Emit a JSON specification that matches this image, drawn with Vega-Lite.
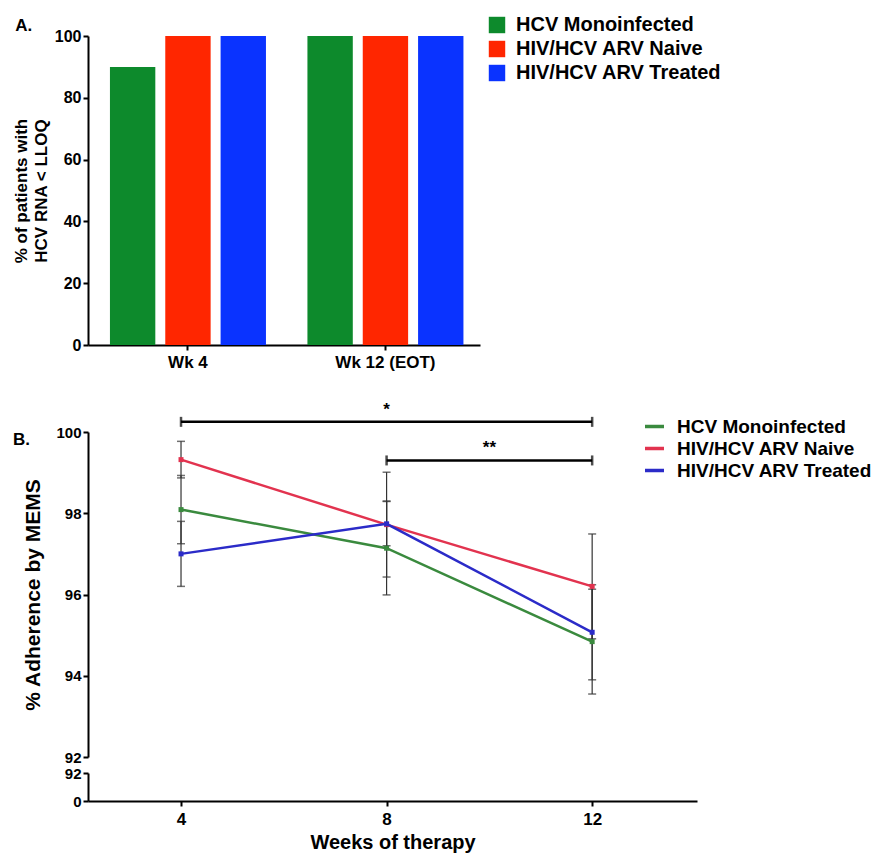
{
  "$schema": "https://vega.github.io/schema/vega-lite/v6.json",
  "background": "white",
  "padding": {"left": 12, "top": 15, "right": 3, "bottom": 5},
  "config": {
    "font": "Liberation Sans",
    "view": {"stroke": null},
    "axis": {"domainColor": "black", "domainWidth": 2, "tickColor": "black", "tickWidth": 2, "tickSize": 5, "labelColor": "black", "labelFontWeight": "bold", "titleFontWeight": "bold", "titleColor": "black", "grid": false},
    "legend": {"labelFontWeight": "bold", "labelColor": "black", "title": null, "labelLimit": 400},
    "title": {"fontWeight": "bold", "color": "black"}
  },
  "resolve": {"scale": {"color": "independent"}, "legend": {"color": "independent"}},
  "datasets": {
    "bars": [
      {"week": "Wk 4", "group": "HCV Monoinfected", "pct": 90},
      {"week": "Wk 4", "group": "HIV/HCV ARV Naive", "pct": 100},
      {"week": "Wk 4", "group": "HIV/HCV ARV Treated", "pct": 100},
      {"week": "Wk 12 (EOT)", "group": "HCV Monoinfected", "pct": 100},
      {"week": "Wk 12 (EOT)", "group": "HIV/HCV ARV Naive", "pct": 100},
      {"week": "Wk 12 (EOT)", "group": "HIV/HCV ARV Treated", "pct": 100}
    ],
    "adh": [
      {"week": 4, "group": "HCV Monoinfected", "mean": 98.09, "lo": 97.25, "hi": 98.93},
      {"week": 4, "group": "HIV/HCV ARV Naive", "mean": 99.32, "lo": 98.87, "hi": 99.77},
      {"week": 4, "group": "HIV/HCV ARV Treated", "mean": 97.0, "lo": 96.2, "hi": 97.8},
      {"week": 8, "group": "HCV Monoinfected", "mean": 97.14, "lo": 95.99, "hi": 98.29},
      {"week": 8, "group": "HIV/HCV ARV Naive", "mean": 97.72, "lo": 96.43, "hi": 99.01},
      {"week": 8, "group": "HIV/HCV ARV Treated", "mean": 97.74, "lo": 97.2, "hi": 98.3},
      {"week": 12, "group": "HCV Monoinfected", "mean": 94.84, "lo": 93.55, "hi": 96.13},
      {"week": 12, "group": "HIV/HCV ARV Naive", "mean": 96.2, "lo": 94.91, "hi": 97.49},
      {"week": 12, "group": "HIV/HCV ARV Treated", "mean": 95.07, "lo": 93.9, "hi": 96.24}
    ],
    "sig": [
      {"x1": 4, "x2": 12, "xm": 8, "y": 100.25, "label": "*"},
      {"x1": 8, "x2": 12, "xm": 10, "y": 99.3, "label": "**"}
    ],
    "sigEnds": [
      {"x": 4, "y": 100.25},
      {"x": 12, "y": 100.25},
      {"x": 8, "y": 99.3},
      {"x": 12, "y": 99.3}
    ]
  },
  "align": "none",
  "spacing": 30,
  "vconcat": [
    {
      "title": {"text": "A.", "anchor": "start", "frame": "bounds", "fontSize": 17, "dx": 3, "dy": 24},
      "width": 392,
      "height": 309,
      "data": {"name": "bars"},
      "mark": {"type": "bar"},
      "encoding": {
        "x": {"field": "week", "type": "nominal", "sort": ["Wk 4", "Wk 12 (EOT)"],
              "scale": {"paddingInner": 0.21, "paddingOuter": 0.0975, "align": 0.57},
              "axis": {"title": null, "labelAngle": 0, "labelFontSize": 17, "labelPadding": 4}},
        "xOffset": {"field": "group", "type": "nominal",
                    "sort": ["HCV Monoinfected", "HIV/HCV ARV Naive", "HIV/HCV ARV Treated"],
                    "scale": {"paddingInner": 0.18, "paddingOuter": 0}},
        "y": {"field": "pct", "type": "quantitative", "scale": {"domain": [0, 100]},
              "axis": {"values": [0, 20, 40, 60, 80, 100], "title": ["% of patients with", "HCV RNA < LLOQ"],
                       "titleFontSize": 17, "titleLineHeight": 20, "labelFontSize": 16, "titlePadding": 4}},
        "color": {"field": "group", "type": "nominal",
                  "scale": {"domain": ["HCV Monoinfected", "HIV/HCV ARV Naive", "HIV/HCV ARV Treated"],
                            "range": ["#0d8a2c", "#ff2600", "#0a33ff"]},
                  "legend": {"orient": "none", "legendX": 399, "legendY": -21, "symbolType": "square",
                             "symbolSize": 270, "symbolOpacity": 1, "labelFontSize": 20, "labelOffset": 9, "rowPadding": 4}}
      }
    },
    {
      "bounds": "flush",
      "spacing": 16,
      "vconcat": [
        {
          "title": {"text": "B.", "anchor": "start", "frame": "bounds", "fontSize": 17, "dx": -10, "dy": 52},
          "width": 609,
          "height": 325,
          "layer": [
            {
              "data": {"name": "adh"},
              "mark": {"type": "rule", "color": "#333333", "strokeWidth": 1.2},
              "encoding": {
                "x": {"field": "week", "type": "quantitative", "scale": {"domain": [2.19, 14.04], "nice": false, "zero": false}, "axis": null},
                "y": {"field": "lo", "type": "quantitative", "scale": {"domain": [92, 100]},
                      "axis": {"values": [92, 94, 96, 98, 100], "title": "% Adherence by MEMS",
                               "titleFontSize": 21, "labelFontSize": 15, "titlePadding": 12}},
                "y2": {"field": "hi"}
              }
            },
            {
              "data": {"name": "adh"},
              "mark": {"type": "tick", "orient": "horizontal", "size": 8, "thickness": 1.5, "color": "#333333"},
              "encoding": {
                "x": {"field": "week", "type": "quantitative", "axis": null},
                "y": {"field": "lo", "type": "quantitative"}
              }
            },
            {
              "data": {"name": "adh"},
              "mark": {"type": "tick", "orient": "horizontal", "size": 8, "thickness": 1.5, "color": "#333333"},
              "encoding": {
                "x": {"field": "week", "type": "quantitative", "axis": null},
                "y": {"field": "hi", "type": "quantitative"}
              }
            },
            {
              "data": {"name": "adh"},
              "mark": {"type": "line", "strokeWidth": 2.5, "point": {"filled": true, "size": 25, "shape": "square"}},
              "encoding": {
                "x": {"field": "week", "type": "quantitative", "axis": null},
                "y": {"field": "mean", "type": "quantitative"},
                "color": {"field": "group", "type": "nominal",
                          "scale": {"domain": ["HCV Monoinfected", "HIV/HCV ARV Naive", "HIV/HCV ARV Treated"],
                                    "range": ["#3a8a3e", "#e2334f", "#2b2bc8"]},
                          "legend": {"orient": "none", "legendX": 555, "legendY": -17, "symbolType": "stroke",
                                     "symbolStrokeWidth": 3.5, "symbolSize": 361, "labelFontSize": 19, "labelOffset": 11, "rowPadding": 0}}
              }
            },
            {
              "data": {"name": "sig"},
              "mark": {"type": "rule", "color": "black", "strokeWidth": 2.5},
              "encoding": {
                "x": {"field": "x1", "type": "quantitative", "axis": null},
                "x2": {"field": "x2"},
                "y": {"field": "y", "type": "quantitative"}
              }
            },
            {
              "data": {"name": "sigEnds"},
              "mark": {"type": "tick", "orient": "vertical", "size": 10, "thickness": 2.5, "color": "black"},
              "encoding": {
                "x": {"field": "x", "type": "quantitative", "axis": null},
                "y": {"field": "y", "type": "quantitative"}
              }
            },
            {
              "data": {"name": "sig"},
              "mark": {"type": "text", "fontSize": 17, "fontWeight": "bold", "dy": -12, "color": "black"},
              "encoding": {
                "x": {"field": "xm", "type": "quantitative", "axis": null},
                "y": {"field": "y", "type": "quantitative"},
                "text": {"field": "label"}
              }
            }
          ]
        },
        {
          "width": 609,
          "height": 28,
          "data": {"name": "adh"},
          "mark": {"type": "point", "opacity": 0},
          "encoding": {
            "x": {"field": "week", "type": "quantitative", "scale": {"domain": [2.19, 14.04], "nice": false, "zero": false},
                  "axis": {"values": [4, 8, 12], "title": "Weeks of therapy", "titleFontSize": 20,
                           "labelFontSize": 17, "labelPadding": 5, "titlePadding": 5}},
            "y": {"datum": 0, "type": "quantitative", "scale": {"domain": [0, 92]},
                  "axis": {"values": [0, 92], "title": null, "labelFontSize": 15}}
          }
        }
      ]
    }
  ]
}
